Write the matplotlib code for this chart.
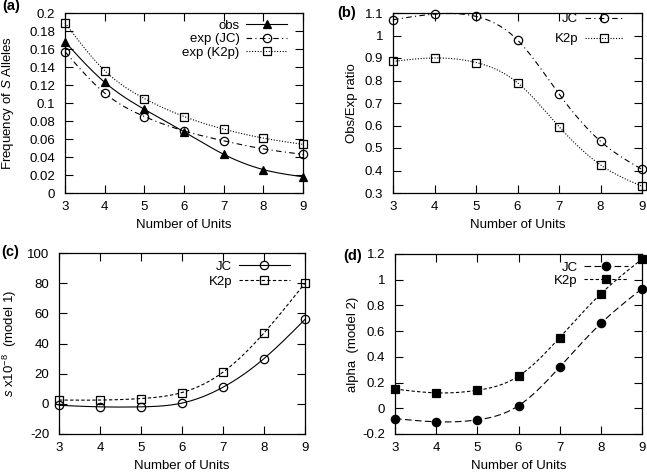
import numpy as np
import matplotlib
matplotlib.use("Agg")
import matplotlib.pyplot as plt

plt.rcParams['font.family'] = ['Liberation Sans', 'DejaVu Sans']
plt.rcParams['mathtext.fontset'] = 'custom'
plt.rcParams['mathtext.rm'] = 'Liberation Sans'
plt.rcParams['mathtext.it'] = 'Liberation Sans:italic'
plt.rcParams['font.size'] = 9.5

units = [3, 4, 5, 6, 7, 8, 9]

# (a) frequency of S alleles
freq_obs = [0.168, 0.123, 0.093, 0.068, 0.043, 0.026, 0.018]
freq_jc = [0.157, 0.111, 0.085, 0.069, 0.058, 0.049, 0.043]
freq_k2p = [0.189, 0.136, 0.105, 0.085, 0.071, 0.061, 0.054]

# (b) obs/exp ratio
ratio_jc = [1.07, 1.095, 1.085, 0.98, 0.74, 0.53, 0.405]
ratio_k2p = [0.885, 0.90, 0.88, 0.79, 0.595, 0.425, 0.33]

# (c) s x10^-8 (model 1)
s_jc = [-1.0, -2.0, -2.0, 0.5, 11.0, 30.0, 56.0]
s_k2p = [2.5, 2.5, 3.5, 7.5, 21.0, 47.0, 80.0]

# (d) alpha (model 2)
alpha_jc = [-0.08, -0.105, -0.09, 0.02, 0.32, 0.66, 0.93]
alpha_k2p = [0.15, 0.12, 0.14, 0.25, 0.55, 0.89, 1.16]


def cspline(x, y, n=200):
    # natural cubic spline, like gnuplot "smooth csplines"
    x = np.asarray(x, float)
    y = np.asarray(y, float)
    k = len(x)
    h = np.diff(x)
    A = np.zeros((k, k))
    r = np.zeros(k)
    A[0, 0] = 1
    A[-1, -1] = 1
    for i in range(1, k - 1):
        A[i, i - 1] = h[i - 1]
        A[i, i] = 2 * (h[i - 1] + h[i])
        A[i, i + 1] = h[i]
        r[i] = 6 * ((y[i + 1] - y[i]) / h[i] - (y[i] - y[i - 1]) / h[i - 1])
    M = np.linalg.solve(A, r)
    xs = np.linspace(x[0], x[-1], n)
    ys = np.empty_like(xs)
    for j, xv in enumerate(xs):
        i = min(np.searchsorted(x, xv, side='right') - 1, k - 2)
        t0 = x[i + 1] - xv
        t1 = xv - x[i]
        ys[j] = (M[i] * t0 ** 3 + M[i + 1] * t1 ** 3) / (6 * h[i]) \
            + (y[i] / h[i] - M[i] * h[i] / 6) * t0 \
            + (y[i + 1] / h[i] - M[i + 1] * h[i] / 6) * t1
    return xs, ys


def series(ax, y, ls, marker, label, filled=False, ms=6):
    xs, ys = cspline(units, y)
    fc = 'black' if filled else 'none'
    ax.plot(xs, ys, color='black', lw=0.8, linestyle=ls, clip_on=False)
    ax.plot(units, y, linestyle='none', marker=marker, ms=ms,
            mfc=fc, mec='black', mew=0.9, clip_on=False, zorder=3)
    h, = ax.plot([], [], color='black', lw=0.8, linestyle=ls, marker=marker,
                 ms=ms, mfc=fc, mec='black', mew=0.9)
    h.set_label(label)
    return h


def style(ax, ylim, yticks, ylabel, ylab_x, xlab_y):
    ax.set_xlim(3, 9)
    ax.set_ylim(*ylim)
    ax.set_xticks(units)
    ax.set_yticks(yticks)
    ax.set_yticklabels([('%g' % v) for v in yticks])
    ax.tick_params(direction='in', top=True, right=True, length=6, width=0.8,
                   labelsize=9.5)
    ax.tick_params(axis='x', pad=5.5)
    ax.tick_params(axis='y', pad=7)
    for sp in ax.spines.values():
        sp.set_linewidth(0.9)
    ax.set_xlabel('Number of Units', fontsize=9.5)
    ax.set_ylabel(ylabel, fontsize=9.5)
    ax.yaxis.set_label_coords(ylab_x, 0.5)
    ax.xaxis.set_label_coords(0.5, xlab_y)


def legend(ax, hs, x, y, hl, sp):
    ax.legend(handles=hs, loc='upper right', frameon=False, markerfirst=False,
              handlelength=hl, labelspacing=sp, fontsize=9.5,
              bbox_to_anchor=(x, y), borderaxespad=0, borderpad=0,
              handletextpad=0.5)


W, H = 647, 474
fig = plt.figure(figsize=(W / 100, H / 100), dpi=100)


def box(l, r, t, b):
    return [l / W, (H - b) / H, (r - l) / W, (b - t) / H]


# (a)
ax = fig.add_axes(box(65, 303, 13, 193))
hs = [series(ax, freq_obs, '-', '^', 'obs', filled=True),
      series(ax, freq_jc, (0, (5, 3, 1, 3)), 'o', 'exp (JC)'),
      series(ax, freq_k2p, (0, (1, 1.5)), 's', 'exp (K2p)')]
style(ax, (0, 0.2), np.round(np.arange(0, 0.201, 0.02), 2),
      'Frequency of $S$ Alleles', -0.206, -0.142)
legend(ax, hs, 0.933, 0.964, 3.1, 0.1)

# (b)
ax = fig.add_axes(box(393, 642, 13, 193))
hs = [series(ax, ratio_jc, (0, (5, 3, 1, 3)), 'o', 'JC'),
      series(ax, ratio_k2p, (0, (1, 1.5)), 's', 'K2p')]
style(ax, (0.3, 1.1), np.round(np.arange(0.3, 1.101, 0.1), 1),
      'Obs/Exp ratio', -0.141, -0.142)
legend(ax, hs, 0.924, 1.0, 2.9, 0.6)

# (c)
ax = fig.add_axes(box(59, 305, 253, 434))
hs = [series(ax, s_jc, '-', 'o', 'JC'),
      series(ax, s_k2p, (0, (3, 2)), 's', 'K2p')]
style(ax, (-20, 100), np.arange(-20, 101, 20),
      '$s$ x10$^{-8}$  (model 1)', -0.163, -0.146)
legend(ax, hs, 0.939, 0.959, 3.9, 0.2)

# (d)
ax = fig.add_axes(box(395, 642, 254, 434))
hs = [series(ax, alpha_jc, (0, (6, 3)), 'o', 'JC', filled=True),
      series(ax, alpha_k2p, (0, (3, 2)), 's', 'K2p', filled=True)]
style(ax, (-0.2, 1.2), np.round(np.arange(-0.2, 1.201, 0.2), 1),
      'alpha  (model 2)', -0.146, -0.146)
legend(ax, hs, 0.943, 0.959, 3.3, 0.06)

fig.text(2 / W, 1 - 6 / H, '(a)', fontsize=10.5, fontweight='bold', va='center')
fig.text(337 / W, 1 - 13 / H, '(b)', fontsize=10.5, fontweight='bold', va='center')
fig.text(1 / W, 1 - 252 / H, '(c)', fontsize=10.5, fontweight='bold', va='center')
fig.text(343 / W, 1 - 256 / H, '(d)', fontsize=10.5, fontweight='bold', va='center')

fig.savefig('out.png', dpi=100)
